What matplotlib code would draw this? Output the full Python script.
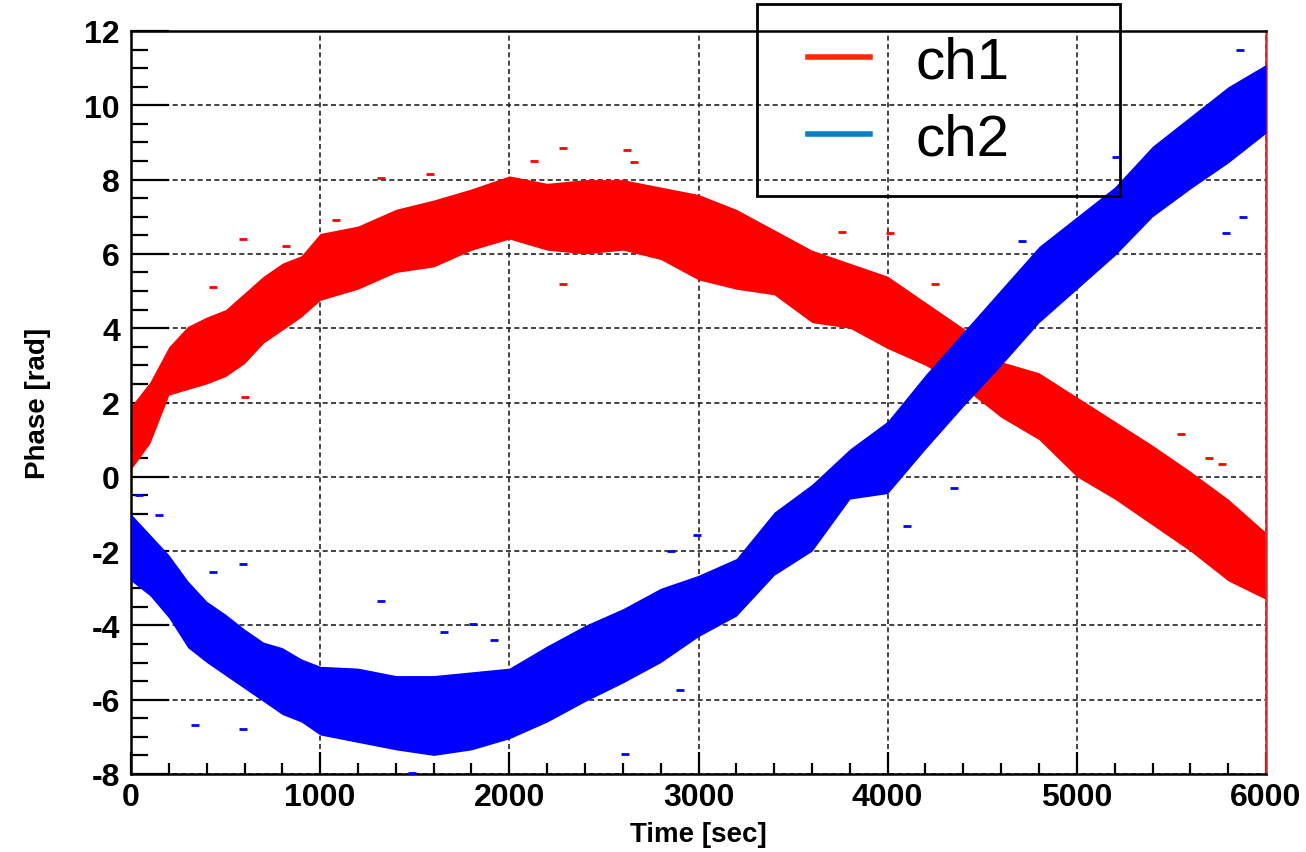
import matplotlib
matplotlib.use("Agg")
import matplotlib.pyplot as plt
from matplotlib.lines import Line2D
from matplotlib.patches import Rectangle

plt.rcParams['font.family'] = ['Liberation Sans', 'DejaVu Sans']
plt.rcParams['axes.unicode_minus'] = False

time = [0, 100, 200, 300, 400, 500, 600, 700, 800, 900, 1000,
        1200, 1400, 1600, 1800, 2000, 2200, 2400, 2600, 2800, 3000,
        3200, 3400, 3600, 3800, 4000, 4200, 4400, 4600, 4800, 5000,
        5200, 5400, 5600, 5800, 6000]

# ch1 band (upper / lower edge, rad)
ch1_hi = [1.9, 2.55, 3.5, 4.05, 4.3, 4.5, 4.95, 5.4, 5.75, 5.95, 6.55,
          6.75, 7.2, 7.45, 7.75, 8.1, 7.9, 8.0, 8.0, 7.8, 7.6,
          7.2, 6.65, 6.1, 5.75, 5.4, 4.7, 4.0, 3.1, 2.8, 2.15,
          1.5, 0.85, 0.15, -0.6, -1.5]
ch1_lo = [0.2, 0.9, 2.2, 2.35, 2.5, 2.7, 3.05, 3.6, 3.95, 4.3, 4.75,
          5.05, 5.5, 5.65, 6.1, 6.4, 6.1, 6.0, 6.1, 5.85, 5.3,
          5.05, 4.9, 4.15, 4.0, 3.45, 3.0, 2.4, 1.6, 1.0, 0.0,
          -0.6, -1.3, -2.0, -2.8, -3.3]

# ch2 band (upper / lower edge, rad)
ch2_hi = [-1.0, -1.55, -2.1, -2.8, -3.35, -3.7, -4.1, -4.45, -4.6, -4.9, -5.1,
          -5.15, -5.35, -5.35, -5.25, -5.15, -4.55, -4.0, -3.55, -3.0, -2.65,
          -2.2, -0.95, -0.2, 0.75, 1.5, 2.75, 3.9, 5.05, 6.2, 7.0,
          7.8, 8.9, 9.7, 10.5, 11.1]
ch2_lo = [-2.8, -3.2, -3.8, -4.6, -5.0, -5.35, -5.7, -6.05, -6.4, -6.6, -6.95,
          -7.15, -7.35, -7.5, -7.35, -7.05, -6.6, -6.05, -5.55, -5.0, -4.3,
          -3.75, -2.65, -2.0, -0.6, -0.45, 0.75, 1.9, 3.0, 4.15, 5.05,
          5.95, 7.0, 7.75, 8.45, 9.25]

# isolated points outside the bands
ch1_out_t = [2285, 2621, 2133, 2660, 1582, 590, 818, 1082, 2285, 600, 434, 1324,
             3759, 4014, 4249, 5550, 5765, 5700]
ch1_out_y = [8.85, 8.8, 8.5, 8.47, 8.15, 6.4, 6.2, 6.9, 5.2, 2.15, 5.1, 8.05,
             6.6, 6.55, 5.2, 1.16, 0.35, 0.5]
ch2_out_t = [1322, 1810, 1654, 590, 434, 340, 590, 2611, 2904, 1488, 2992, 2855,
             1918, 150, 43, 4350, 4100, 5790, 5876, 5863, 4708, 5207]
ch2_out_y = [-3.33, -3.96, -4.18, -2.34, -2.56, -6.68, -6.79, -7.46, -5.75, -7.96,
             -1.57, -2.0, -4.38, -1.02, -0.5, -0.31, -1.32, 6.56, 7.0, 11.5, 6.35, 8.6]

fig = plt.figure(figsize=(13.06, 8.53), dpi=100)
ax = fig.add_axes([131 / 1306, 78 / 853, 1135 / 1306, 743 / 853])

ax.fill_between(time, ch1_lo, ch1_hi, color='#ff0000', lw=0, zorder=2)
ax.plot(ch1_out_t, ch1_out_y, ls='none', marker='_', ms=6, mew=2, color='#ff0000', zorder=2)
ax.fill_between(time, ch2_lo, ch2_hi, color='#0000ff', lw=0, zorder=3)
ax.plot(ch2_out_t, ch2_out_y, ls='none', marker='_', ms=6, mew=2, color='#0000ff', zorder=3)

ax.set_xlim(0, 6000)
ax.set_ylim(-8, 12)
ax.set_xticks(range(0, 6001, 1000))
ax.set_xticks(range(0, 6001, 200), minor=True)
ax.set_yticks(range(-8, 13, 2))
ax.set_yticks([v / 2 for v in range(-16, 25)], minor=True)

ax.grid(True, which='major', color='#222222', ls=(0, (3, 2)), lw=1.2, zorder=1)
ax.tick_params(axis='both', which='both', direction='in', top=False, right=False,
               width=1.6, colors='black')
ax.tick_params(axis='y', which='major', length=27, pad=8)
ax.tick_params(axis='y', which='minor', length=12)
ax.tick_params(axis='x', which='major', length=16, pad=6)
ax.tick_params(axis='x', which='minor', length=8)
for lab in ax.get_xticklabels() + ax.get_yticklabels():
    lab.set_fontsize(23)
    lab.set_fontweight('bold')

for side in ['left', 'top', 'bottom']:
    ax.spines[side].set_linewidth(1.8)
    ax.spines[side].set_color('black')
ax.spines['right'].set_linewidth(1.8)
ax.spines['right'].set_color('#d03030')

ax.set_xlabel('Time [sec]', fontsize=20, fontweight='bold')
ax.set_ylabel('Phase [rad]', fontsize=20, fontweight='bold')
ax.xaxis.set_label_coords(0.5, -(835 - 775) / 743)
ax.xaxis.label.set_va('center')
ax.yaxis.set_label_coords(-(131 - 38) / 1135, 0.5)
ax.yaxis.label.set_va('center')

# legend box (transparent, reaches above the frame)
fig.add_artist(Rectangle((757 / 1306, 1 - 197 / 853), (1120 - 757) / 1306, (197 - 5) / 853,
                         transform=fig.transFigure, fill=False, lw=2, ec='black', zorder=10))
handles = [Line2D([], [], color='#ff2a00', lw=4), Line2D([], [], color='#0a80c8', lw=4)]
fig.legend(handles, ['ch1', 'ch2'], loc='upper left', frameon=False,
           bbox_to_anchor=(808 / 1306, 1 - 36 / 853), borderpad=0, borderaxespad=0,
           fontsize=42, labelspacing=0.4, handlelength=1.07, handletextpad=0.78)

fig.savefig('out.png', dpi=100)
